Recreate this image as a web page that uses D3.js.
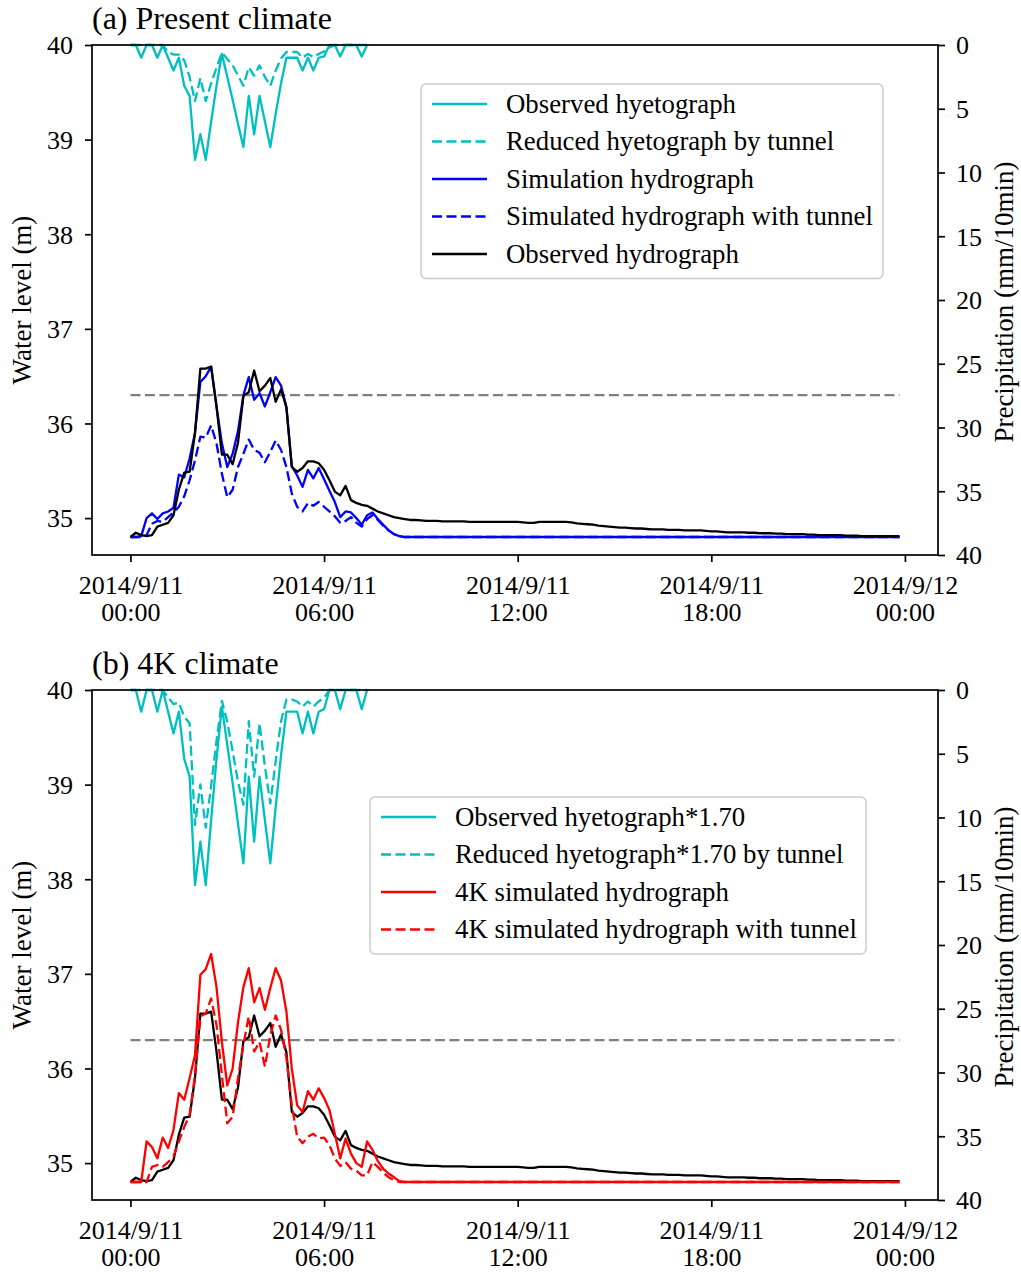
<!DOCTYPE html>
<html>
<head>
<meta charset="utf-8">
<script src="https://cdn.jsdelivr.net/npm/d3@7"></script>
<style>
  body { margin: 0; background: #fff; }
  svg { font-family: "Liberation Serif", "Times New Roman", serif; }
</style>
</head>
<body>
<div id="chart"></div>
<script>
// 10-minute steps starting 2014/9/11 00:00
const startTime = new Date(2014, 8, 11, 0, 0);
const stepCount = 144;

// Precipitation (mm/10min), present climate, storm period from 00:00
const obsRain = [0, 0, 1.0, 0, 0, 1.0, 0, 1.0, 2.0, 1.0,
  3.2, 4.0, 9.0, 7.0, 9.0, 6.0, 3.2, 0.7, 2.5, 4.3,
  6.2, 8.0, 4.0, 7.0, 4.0, 6.0, 8.0, 5.4, 3.0, 1.0,
  1.0, 1.0, 2.0, 1.0, 2.0, 1.0, 0.9, 0, 0, 0.9,
  0, 0, 0, 0.9, 0];
const reducedRain = [0, 0, 0, 0, 0, 0, 0, 0.55, 0.75, 0.75,
  1.2, 2.5, 4.4, 2.6, 4.4, 3.0, 1.8, 0.6, 1.1, 1.6,
  2.4, 3.2, 1.75, 2.4, 1.6, 2.5, 3.2, 2.0, 1.05, 0.55,
  0.55, 0.55, 1.0, 0.7, 0.95, 0.7, 0.5, 0.2, 0, 0,
  0, 0, 0, 0, 0];

// Precipitation (mm/10min), 4K climate
const obsRain4K = [0, 0, 1.7, 0, 0, 1.7, 0, 1.7, 3.4, 1.7,
  5.4, 6.8, 15.3, 11.9, 15.3, 10.2, 5.4, 1.3, 4.3, 7.3,
  10.5, 13.6, 6.8, 11.9, 6.8, 10.2, 13.6, 9.2, 5.1, 1.7,
  1.7, 1.7, 3.4, 1.7, 3.4, 1.7, 1.5, 0, 0, 1.5,
  0, 0, 0, 1.5, 0];
const reducedRain4K = [0, 0, 0, 0, 0, 0, 0, 0.6, 1.1, 1.0,
  2.1, 2.6, 10.6, 7.4, 10.8, 7.5, 4.0, 0.85, 2.5, 4.8,
  7.2, 9.0, 2.45, 6.8, 2.6, 6.0, 8.9, 5.6, 2.45, 0.75,
  0.75, 0.9, 1.3, 0.9, 1.3, 0.9, 0.6, 0, 0, 0,
  0, 0, 0, 0, 0];

// Water level (m)
const obsLevel = [34.80, 34.845, 34.82, 34.81, 34.82, 34.91, 34.93, 34.95, 35.03, 35.30,
  35.48, 35.49, 35.90, 36.58, 36.58, 36.60, 36.18, 35.67, 35.67, 35.57,
  35.80, 36.29, 36.33, 36.56, 36.34, 36.40, 36.48, 36.23, 36.36, 36.17,
  35.54, 35.49, 35.53, 35.60, 35.60, 35.58, 35.51, 35.40, 35.28, 35.24,
  35.34, 35.19, 35.16, 35.14, 35.13, 35.10, 35.07, 35.05, 35.03, 35.01,
  35.00, 34.99, 34.98, 34.98, 34.975, 34.97, 34.97, 34.97, 34.965, 34.965,
  34.965, 34.965, 34.965, 34.96, 34.96, 34.96, 34.96, 34.96, 34.96, 34.96,
  34.96, 34.96, 34.96, 34.955, 34.95, 34.95, 34.96, 34.96, 34.96, 34.96,
  34.96, 34.96, 34.955, 34.945, 34.94, 34.935, 34.93, 34.92, 34.915, 34.91,
  34.905, 34.90, 34.90, 34.895, 34.89, 34.89, 34.885, 34.88, 34.88, 34.88,
  34.875, 34.875, 34.875, 34.87, 34.87, 34.87, 34.87, 34.865, 34.86, 34.86,
  34.855, 34.85, 34.85, 34.85, 34.85, 34.845, 34.845, 34.84, 34.84, 34.84,
  34.835, 34.835, 34.83, 34.83, 34.83, 34.83, 34.825, 34.825, 34.82, 34.82,
  34.82, 34.82, 34.82, 34.815, 34.815, 34.815, 34.81, 34.81, 34.81, 34.81,
  34.81, 34.81, 34.81, 34.81];

const simLevel = [34.80, 34.80, 34.81, 35.00, 35.05, 34.99, 35.05, 35.07, 35.11, 35.46,
  35.43, 35.63, 35.90, 36.44, 36.50, 36.60, 36.18, 35.79, 35.54, 35.68,
  35.92, 36.30, 36.49, 36.25, 36.32, 36.18, 36.33, 36.49, 36.40, 36.17,
  35.55, 35.45, 35.33, 35.51, 35.42, 35.53, 35.41, 35.29, 35.17, 35.01,
  35.07, 35.06, 35.00, 34.93, 35.03, 35.06, 34.99, 34.93, 34.87, 34.83,
  34.81, 34.80, 34.8, 34.8, 34.8, 34.8, 34.8, 34.8, 34.8, 34.8,
  34.8, 34.8, 34.8, 34.8, 34.8, 34.8, 34.8, 34.8, 34.8, 34.8,
  34.8, 34.8, 34.8, 34.8, 34.8, 34.8, 34.8, 34.8, 34.8, 34.8,
  34.8, 34.8, 34.8, 34.8, 34.8, 34.8, 34.8, 34.8, 34.8, 34.8,
  34.8, 34.8, 34.8, 34.8, 34.8, 34.8, 34.8, 34.8, 34.8, 34.8,
  34.8, 34.8, 34.8, 34.8, 34.8, 34.8, 34.8, 34.8, 34.8, 34.8,
  34.8, 34.8, 34.8, 34.8, 34.8, 34.8, 34.8, 34.8, 34.8, 34.8,
  34.8, 34.8, 34.8, 34.8, 34.8, 34.8, 34.8, 34.8, 34.8, 34.8,
  34.8, 34.8, 34.8, 34.8, 34.8, 34.8, 34.8, 34.8, 34.8, 34.8,
  34.8, 34.8, 34.8, 34.8];

const simTunnelLevel = [34.80, 34.80, 34.80, 34.82, 34.94, 34.97, 34.96, 35.01, 35.06, 35.12,
  35.23, 35.40, 35.61, 35.86, 35.85, 35.98, 35.79, 35.47, 35.22, 35.30,
  35.54, 35.68, 35.83, 35.72, 35.69, 35.59, 35.70, 35.82, 35.72, 35.54,
  35.26, 35.12, 35.07, 35.16, 35.13, 35.17, 35.12, 35.07, 35.02, 34.95,
  34.97, 35.01, 34.95, 34.91, 34.99, 35.03, 34.98, 34.92, 34.87, 34.83,
  34.81, 34.80, 34.8, 34.8, 34.8, 34.8, 34.8, 34.8, 34.8, 34.8,
  34.8, 34.8, 34.8, 34.8, 34.8, 34.8, 34.8, 34.8, 34.8, 34.8,
  34.8, 34.8, 34.8, 34.8, 34.8, 34.8, 34.8, 34.8, 34.8, 34.8,
  34.8, 34.8, 34.8, 34.8, 34.8, 34.8, 34.8, 34.8, 34.8, 34.8,
  34.8, 34.8, 34.8, 34.8, 34.8, 34.8, 34.8, 34.8, 34.8, 34.8,
  34.8, 34.8, 34.8, 34.8, 34.8, 34.8, 34.8, 34.8, 34.8, 34.8,
  34.8, 34.8, 34.8, 34.8, 34.8, 34.8, 34.8, 34.8, 34.8, 34.8,
  34.8, 34.8, 34.8, 34.8, 34.8, 34.8, 34.8, 34.8, 34.8, 34.8,
  34.8, 34.8, 34.8, 34.8, 34.8, 34.8, 34.8, 34.8, 34.8, 34.8,
  34.8, 34.8, 34.8, 34.8];

const sim4KLevel = [34.80, 34.80, 34.80, 35.23, 35.17, 35.05, 35.27, 35.16, 35.35, 35.74,
  35.67, 35.90, 36.14, 36.99, 37.05, 37.21, 36.86, 36.28, 35.82, 36.00,
  36.49, 36.86, 37.06, 36.70, 36.85, 36.62, 36.85, 37.06, 36.93, 36.60,
  36.00, 35.61, 35.54, 35.76, 35.67, 35.79, 35.69, 35.56, 35.31, 35.05,
  35.26, 35.10, 35.00, 34.96, 35.23, 35.14, 35.02, 34.94, 34.89, 34.85,
  34.81, 34.80, 34.8, 34.8, 34.8, 34.8, 34.8, 34.8, 34.8, 34.8,
  34.8, 34.8, 34.8, 34.8, 34.8, 34.8, 34.8, 34.8, 34.8, 34.8,
  34.8, 34.8, 34.8, 34.8, 34.8, 34.8, 34.8, 34.8, 34.8, 34.8,
  34.8, 34.8, 34.8, 34.8, 34.8, 34.8, 34.8, 34.8, 34.8, 34.8,
  34.8, 34.8, 34.8, 34.8, 34.8, 34.8, 34.8, 34.8, 34.8, 34.8,
  34.8, 34.8, 34.8, 34.8, 34.8, 34.8, 34.8, 34.8, 34.8, 34.8,
  34.8, 34.8, 34.8, 34.8, 34.8, 34.8, 34.8, 34.8, 34.8, 34.8,
  34.8, 34.8, 34.8, 34.8, 34.8, 34.8, 34.8, 34.8, 34.8, 34.8,
  34.8, 34.8, 34.8, 34.8, 34.8, 34.8, 34.8, 34.8, 34.8, 34.8,
  34.8, 34.8, 34.8, 34.8];

const sim4KTunnelLevel = [34.80, 34.80, 34.80, 34.80, 34.96, 34.98, 34.96, 35.01, 35.07, 35.23,
  35.38, 35.51, 35.93, 36.55, 36.58, 36.74, 36.46, 35.93, 35.42, 35.49,
  35.90, 36.25, 36.55, 36.18, 36.28, 36.02, 36.35, 36.56, 36.41, 36.11,
  35.61, 35.28, 35.21, 35.28, 35.31, 35.26, 35.27, 35.19, 35.05, 34.97,
  35.01, 34.94, 34.92, 34.87, 34.87, 35.01, 34.96, 34.90, 34.85, 34.82,
  34.80, 34.80, 34.8, 34.8, 34.8, 34.8, 34.8, 34.8, 34.8, 34.8,
  34.8, 34.8, 34.8, 34.8, 34.8, 34.8, 34.8, 34.8, 34.8, 34.8,
  34.8, 34.8, 34.8, 34.8, 34.8, 34.8, 34.8, 34.8, 34.8, 34.8,
  34.8, 34.8, 34.8, 34.8, 34.8, 34.8, 34.8, 34.8, 34.8, 34.8,
  34.8, 34.8, 34.8, 34.8, 34.8, 34.8, 34.8, 34.8, 34.8, 34.8,
  34.8, 34.8, 34.8, 34.8, 34.8, 34.8, 34.8, 34.8, 34.8, 34.8,
  34.8, 34.8, 34.8, 34.8, 34.8, 34.8, 34.8, 34.8, 34.8, 34.8,
  34.8, 34.8, 34.8, 34.8, 34.8, 34.8, 34.8, 34.8, 34.8, 34.8,
  34.8, 34.8, 34.8, 34.8, 34.8, 34.8, 34.8, 34.8, 34.8, 34.8,
  34.8, 34.8, 34.8, 34.8];

// Warning water level (m)
const warningLevel = 36.3;

// Axis ticks
const levelTicks = [35, 36, 37, 38, 39, 40];
const rainTicks = [0, 5, 10, 15, 20, 25, 30, 35, 40];

// Colours
const cyan = '#00bfbf';
const blue = '#0000ff';
const red = '#ff0000';
const dash = '10,4.5';
const lineWidth = 2.3;

const times = d3.range(stepCount).map(i => d3.timeMinute.offset(startTime, i * 10));

const svg = d3.select('#chart').append('svg')
  .attr('width', 1021)
  .attr('height', 1273);

// Plot area shared by both panels
const plotLeft = 92;
const plotRight = 938;
const plotHeight = 510;

// x scale: matplotlib-like 5% margin around the data span
const span = times[stepCount - 1] - times[0];
const x = d3.scaleTime()
  .domain([new Date(+times[0] - span * 0.05), new Date(+times[stepCount - 1] + span * 0.05)])
  .range([plotLeft, plotRight]);

function drawPanel(top, title, rainSolid, rainDashed, hydro, legendCfg) {
  const bottom = top + plotHeight;
  const y = d3.scaleLinear().domain([34.61, 40]).range([bottom, top]);
  const yr = d3.scaleLinear().domain([0, 40]).range([top, bottom]);

  const g = svg.append('g');

  const levelLine = d3.line().x((d, i) => x(times[i])).y(d => y(d));
  const rainLine = d3.line().x((d, i) => x(times[i])).y(d => yr(d));

  // Warning level
  g.append('line')
    .attr('x1', x(times[0])).attr('x2', x(times[stepCount - 1]))
    .attr('y1', y(warningLevel)).attr('y2', y(warningLevel))
    .attr('stroke', '#808080').attr('stroke-width', lineWidth)
    .attr('stroke-dasharray', dash);

  // Hydrographs
  hydro.forEach((s) => {
    g.append('path')
      .datum(s.values)
      .attr('d', levelLine)
      .attr('fill', 'none')
      .attr('stroke', s.colour)
      .attr('stroke-width', lineWidth)
      .attr('stroke-dasharray', s.dashed ? dash : null)
      .attr('stroke-linejoin', 'round');
  });

  // Hyetographs (right axis)
  [[rainDashed, true], [rainSolid, false]].forEach(([vals, dashed]) => {
    g.append('path')
      .datum(vals)
      .attr('d', rainLine)
      .attr('fill', 'none')
      .attr('stroke', cyan)
      .attr('stroke-width', lineWidth)
      .attr('stroke-dasharray', dashed ? dash : null)
      .attr('stroke-linejoin', 'round');
  });

  // Frame
  g.append('rect')
    .attr('x', plotLeft).attr('y', top)
    .attr('width', plotRight - plotLeft).attr('height', plotHeight)
    .attr('fill', 'none').attr('stroke', '#000').attr('stroke-width', 1.7);

  // Axes
  const leftAxis = g.append('g')
    .attr('transform', `translate(${plotLeft},0)`)
    .call(d3.axisLeft(y).tickValues(levelTicks).tickFormat(d3.format('d')).tickSize(7).tickPadding(12));
  const rightAxis = g.append('g')
    .attr('transform', `translate(${plotRight},0)`)
    .call(d3.axisRight(yr).tickValues(rainTicks).tickFormat(d3.format('d')).tickSize(7).tickPadding(11));
  const bottomAxis = g.append('g')
    .attr('transform', `translate(0,${bottom})`)
    .call(d3.axisBottom(x).ticks(d3.timeHour.every(6)).tickSize(7).tickFormat(() => ''));

  [leftAxis, rightAxis, bottomAxis].forEach((a) => {
    a.select('.domain').remove();
    a.selectAll('.tick line').attr('stroke', '#000').attr('stroke-width', 1.7);
    a.selectAll('.tick text')
      .attr('font-family', '"Liberation Serif", serif')
      .attr('font-size', 26)
      .attr('fill', '#000');
  });
  leftAxis.selectAll('.tick text').attr('dy', '0.34em');
  rightAxis.selectAll('.tick text').attr('dy', '0.34em');

  // Two-line date labels
  const fmtDate = d3.timeFormat('%Y/%-m/%-d');
  const fmtTime = d3.timeFormat('%H:%M');
  bottomAxis.selectAll('.tick').each(function (d) {
    const t = d3.select(this).select('text').attr('y', 0).attr('dy', null);
    t.append('tspan').attr('x', 0).attr('y', 39).text(fmtDate(d));
    t.append('tspan').attr('x', 0).attr('y', 66).text(fmtTime(d));
  });

  // Axis titles
  g.append('text')
    .attr('transform', `translate(31,${(top + bottom) / 2}) rotate(-90)`)
    .attr('text-anchor', 'middle')
    .attr('font-size', 27)
    .text('Water level (m)');
  g.append('text')
    .attr('transform', `translate(1013,${(top + bottom) / 2 + 2}) rotate(-90)`)
    .attr('text-anchor', 'middle')
    .attr('font-size', 27)
    .text('Precipitation (mm/10min)');

  // Panel title
  g.append('text')
    .attr('x', plotLeft).attr('y', top - 16)
    .attr('font-size', 32)
    .text(title);

  // Legend
  const lg = g.append('g').attr('transform', `translate(${legendCfg.x},${legendCfg.y})`);
  lg.append('rect')
    .attr('width', legendCfg.w)
    .attr('height', legendCfg.items.length * 37.5 + 7)
    .attr('rx', 5)
    .attr('fill', '#fff').attr('fill-opacity', 0.8)
    .attr('stroke', '#cccccc').attr('stroke-width', 1.5);
  legendCfg.items.forEach((it, i) => {
    const cy = 20 + i * 37.5;
    lg.append('line')
      .attr('x1', 11).attr('x2', 66).attr('y1', cy).attr('y2', cy)
      .attr('stroke', it.colour).attr('stroke-width', lineWidth)
      .attr('stroke-dasharray', it.dashed ? dash : null);
    lg.append('text')
      .attr('x', 85).attr('y', cy).attr('dy', '0.33em')
      .attr('font-size', 26.8)
      .text(it.label);
  });
}

drawPanel(45, '(a) Present climate', obsRain, reducedRain,
  [
    { values: simTunnelLevel, colour: blue, dashed: true },
    { values: simLevel, colour: blue, dashed: false },
    { values: obsLevel, colour: '#000', dashed: false },
  ],
  {
    x: 421, y: 84, w: 462,
    items: [
      { label: 'Observed hyetograph', colour: cyan, dashed: false },
      { label: 'Reduced hyetograph by tunnel', colour: cyan, dashed: true },
      { label: 'Simulation hydrograph', colour: blue, dashed: false },
      { label: 'Simulated hydrograph with tunnel', colour: blue, dashed: true },
      { label: 'Observed hydrograph', colour: '#000', dashed: false },
    ],
  });

drawPanel(690, '(b) 4K climate', obsRain4K, reducedRain4K,
  [
    { values: obsLevel, colour: '#000', dashed: false },
    { values: sim4KTunnelLevel, colour: red, dashed: true },
    { values: sim4KLevel, colour: red, dashed: false },
  ],
  {
    x: 370, y: 797, w: 496,
    items: [
      { label: 'Observed hyetograph*1.70', colour: cyan, dashed: false },
      { label: 'Reduced hyetograph*1.70 by tunnel', colour: cyan, dashed: true },
      { label: '4K simulated hydrograph', colour: red, dashed: false },
      { label: '4K simulated hydrograph with tunnel', colour: red, dashed: true },
    ],
  });
</script>
</body>
</html>
